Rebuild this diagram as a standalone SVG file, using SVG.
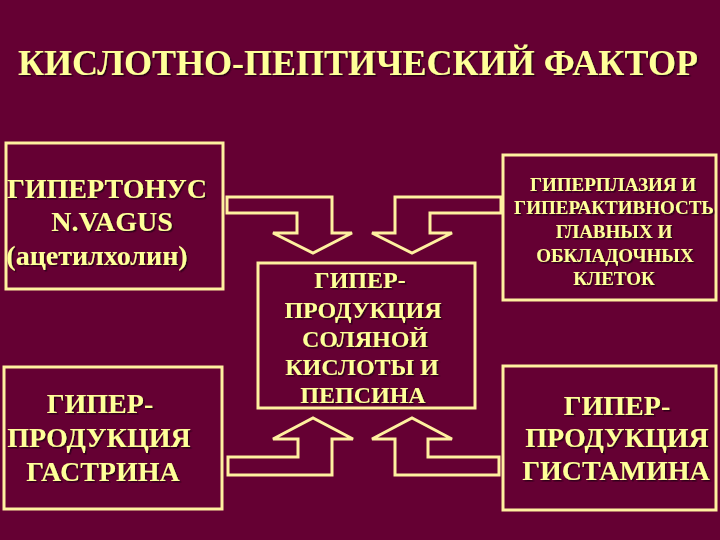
<svg xmlns="http://www.w3.org/2000/svg" width="720" height="540" viewBox="0 0 720 540">
<defs>
<filter id="sh" x="-5%" y="-5%" width="110%" height="120%">
<feDropShadow dx="1.5" dy="1.5" stdDeviation="0.6" flood-color="#2a0012" flood-opacity="0.9"/>
</filter>
<style>
.bg{fill:#650033}
.box{fill:none;stroke:#FFF0A0;stroke-width:3}
.arr{fill:none;stroke:#FFF0A0;stroke-width:3;stroke-linejoin:miter}
text{font-family:"Liberation Serif","Times New Roman",serif;fill:#FFFF99;text-anchor:middle;filter:url(#sh)}
.t{font-size:35px;font-weight:bold;text-anchor:start}
.l{font-size:28px;font-weight:bold}
.m{font-size:24px;font-weight:bold}
.s{font-size:19px;font-weight:bold}
</style>
</defs>
<rect class="bg" x="0" y="0" width="720" height="540"/>
<text class="t" x="18" y="75" textLength="680" lengthAdjust="spacingAndGlyphs">КИСЛОТНО-ПЕПТИЧЕСКИЙ ФАКТОР</text>

<g id="connectors">
<path class="arr" d="M227,197 H332 V233 H352 L313,253 L273,233 H297 V213 H227 Z"/>
<path class="arr" d="M501,197 H395 V233 H372 L412,253 L452,233 H430 V213 H501 Z"/>
<path class="arr" d="M228,457 H298 V439 H273 L313,418 L353,439 H332 V475 H228 Z"/>
<path class="arr" d="M499,457 H428 V439 H452 L412,418 L372,439 H395 V475 H499 Z"/>
</g>

<g id="vagus">
<rect class="box" x="6" y="143" width="217" height="146"/>
<text class="l" x="107" y="198">ГИПЕРТОНУС</text>
<text class="l" x="112" y="231">N.VAGUS</text>
<text class="l" x="97" y="265">(ацетилхолин)</text>
</g>

<g id="hcl">
<rect class="box" x="258" y="263" width="217" height="145"/>
<text class="m" x="360" y="288">ГИПЕР-</text>
<text class="m" x="363" y="318">ПРОДУКЦИЯ</text>
<text class="m" x="365" y="347">СОЛЯНОЙ</text>
<text class="m" x="362" y="375">КИСЛОТЫ И</text>
<text class="m" x="363" y="403">ПЕПСИНА</text>
</g>

<g id="cells">
<rect class="box" x="503" y="155" width="213" height="145"/>
<text class="s" x="613" y="191">ГИПЕРПЛАЗИЯ И</text>
<text class="s" x="614" y="214">ГИПЕРАКТИВНОСТЬ</text>
<text class="s" x="614" y="238">ГЛАВНЫХ И</text>
<text class="s" x="615" y="262">ОБКЛАДОЧНЫХ</text>
<text class="s" x="614" y="285">КЛЕТОК</text>
</g>

<g id="gastrin">
<rect class="box" x="4" y="367" width="218" height="142"/>
<text class="l" x="100" y="413">ГИПЕР-</text>
<text class="l" x="99" y="447">ПРОДУКЦИЯ</text>
<text class="l" x="103" y="481">ГАСТРИНА</text>
</g>

<g id="histamine">
<rect class="box" x="503" y="366" width="213" height="144"/>
<text class="l" x="617" y="415">ГИПЕР-</text>
<text class="l" x="617" y="447">ПРОДУКЦИЯ</text>
<text class="l" x="616" y="480">ГИСТАМИНА</text>
</g>
</svg>
